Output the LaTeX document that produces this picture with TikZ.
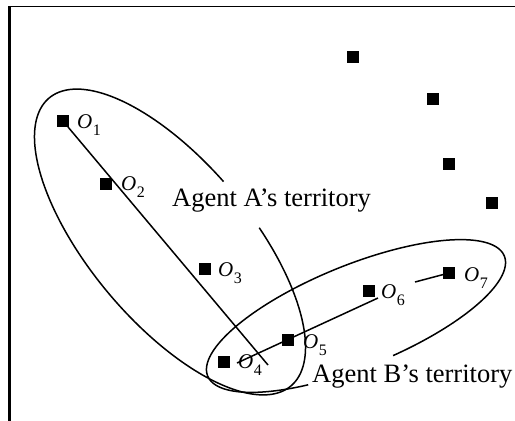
\documentclass[tikz,border=0pt]{standalone}
\usepackage{fontspec}
\setmainfont{Liberation Serif}
\newcommand\olab[1]{\textit{O}\kern0.5pt\raisebox{-7pt}{\fontsize{16}{16}\selectfont #1}}
\begin{document}
\begin{tikzpicture}[x=1pt,y=-1pt,
  obj/.style={fill=black,inner sep=0pt,minimum size=11.5pt},
  curve/.style={line width=1.5pt},
  lab/.style={anchor=base west,inner sep=0pt,font=\fontsize{21}{21}\selectfont},
  terr/.style={anchor=base west,inner sep=0pt,font=\fontsize{26.5}{26.5}\selectfont}]
\useasboundingbox (0,0) rectangle (515,421);
% frame
\draw[line width=2.2pt] (9.5,421) -- (9.5,5.6);
\draw[line width=1.7pt] (8.4,6.5) -- (515,6.5);
% objects
\node[obj] (o1) at (63,121) {};
\node[obj] (o2) at (106,184) {};
\node[obj] (o3) at (205,269) {};
\node[obj] (o4) at (224,362) {};
\node[obj] (o5) at (288,340) {};
\node[obj] (o6) at (369,291) {};
\node[obj] (o7) at (449,273) {};
\node[obj] (p1) at (353,57) {};
\node[obj] (p2) at (433,99) {};
\node[obj] (p3) at (449,164) {};
\node[obj] (p4) at (492,203) {};
% labels
\node[lab] (l1) at (77,128) {\olab{1}};
\node[lab] (l2) at (121,190) {\olab{2}};
\node[lab] (l3) at (218,276) {\olab{3}};
\node[lab] (l4) at (238,368) {\olab{4}};
\node[lab] (l5) at (303,348) {\olab{5}};
\node[lab] (l6) at (381,298) {\olab{6}};
\node[lab] (l7) at (464,281) {\olab{7}};
% connectors
\coordinate (e1) at (268,365);
\coordinate (s2) at (237,363);
\coordinate (e2) at (378,298);
\coordinate (s3) at (415,282);
\draw[curve] (o1) -- (e1);
\draw[curve] (s2) -- (e2);
\draw[curve] (s3) -- (o7);
% territories
\draw[curve] plot[domain=93.6:435.7, samples=150, smooth]
  ({170 + 188*cos(\x)*0.643 + 80*sin(\x)*0.766}, {242 + 188*cos(\x)*0.766 - 80*sin(\x)*0.643});
\draw[curve] plot[domain=116:443, samples=150, smooth]
  ({356 + 160*cos(\x)*0.927 + 51*sin(\x)*0.375}, {316 - 160*cos(\x)*0.375 + 51*sin(\x)*0.927});
\node[terr] (ta) at (172,206) {Agent A’s territory};
\node[terr] (tb) at (312,382) {Agent B’s territory};
\end{tikzpicture}
\end{document}
